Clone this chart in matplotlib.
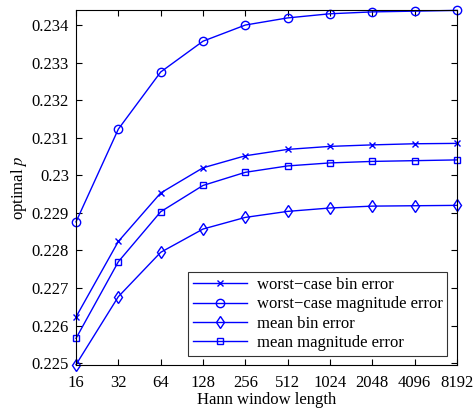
import matplotlib.pyplot as plt

plt.rcParams['font.family'] = ['Liberation Serif', 'DejaVu Serif']
plt.rcParams['mathtext.fontset'] = 'stix'

# window lengths
n_vals = [16, 32, 64, 128, 256, 512, 1024, 2048, 4096, 8192]
n_labels = ['16', '32', '64', '128', '256', '512', '1024', '2048', '4096', '8192']

# optimal p per criterion
worst_bin = [0.22623, 0.22824, 0.22953, 0.23020, 0.23052, 0.23069, 0.23077, 0.23081, 0.23084, 0.23085]
worst_mag = [0.22876, 0.23123, 0.23275, 0.23357, 0.23400, 0.23419, 0.23430, 0.23435, 0.23437, 0.23439]
mean_bin = [0.22496, 0.22677, 0.22795, 0.22857, 0.22888, 0.22904, 0.22913, 0.22918, 0.22919, 0.22920]
mean_mag = [0.22566, 0.22770, 0.22903, 0.22973, 0.23008, 0.23025, 0.23033, 0.23037, 0.23039, 0.23041]

y_ticks = [0.225, 0.226, 0.227, 0.228, 0.229, 0.23, 0.231, 0.232, 0.233, 0.234]
y_labels = ['0.225', '0.226', '0.227', '0.228', '0.229', '0.23', '0.231', '0.232', '0.233', '0.234']

fig = plt.figure(figsize=(4.73, 4.12), dpi=100)
ax = fig.add_axes([0.1607, 0.114, 0.8055, 0.8617])

blue = '#0000ff'
ax.plot(n_vals, worst_bin, color=blue, lw=1, marker='x', ms=4.5, mew=1, clip_on=False,
        label='worst\u2212case bin error')
ax.plot(n_vals, worst_mag, color=blue, lw=1, marker='o', ms=6, mew=1, mfc='none', clip_on=False,
        label='worst\u2212case magnitude error')
ax.plot(n_vals, mean_bin, color=blue, lw=1, marker='d', ms=6, mew=1, mfc='none', clip_on=False,
        label='mean bin error')
ax.plot(n_vals, mean_mag, color=blue, lw=1, marker='s', ms=5, mew=1, mfc='none', clip_on=False,
        label='mean magnitude error')

ax.set_xscale('log', base=2)
ax.set_xlim(16, 8192)
ax.set_ylim(0.22495, 0.2344)
ax.set_xticks(n_vals)
ax.set_xticklabels(n_labels)
ax.minorticks_off()
ax.set_yticks(y_ticks)
ax.set_yticklabels(y_labels)
ax.tick_params(direction='in', top=True, right=True, labelsize=12, length=4)
ax.tick_params(axis='x', pad=7)
ax.tick_params(axis='y', pad=5)

ax.set_xlabel('Hann window length', fontsize=12, labelpad=1)
ax.set_ylabel('optimal $p$', fontsize=12, labelpad=2)

leg = ax.legend(loc='lower right', fontsize=12, fancybox=False, edgecolor='black',
                handlelength=3.2, borderpad=0.3, labelspacing=0.2, handletextpad=0.6,
                borderaxespad=0, bbox_to_anchor=(0.975, 0.025))
leg.get_frame().set_linewidth(0.8)

fig.savefig('out.png', dpi=100)
